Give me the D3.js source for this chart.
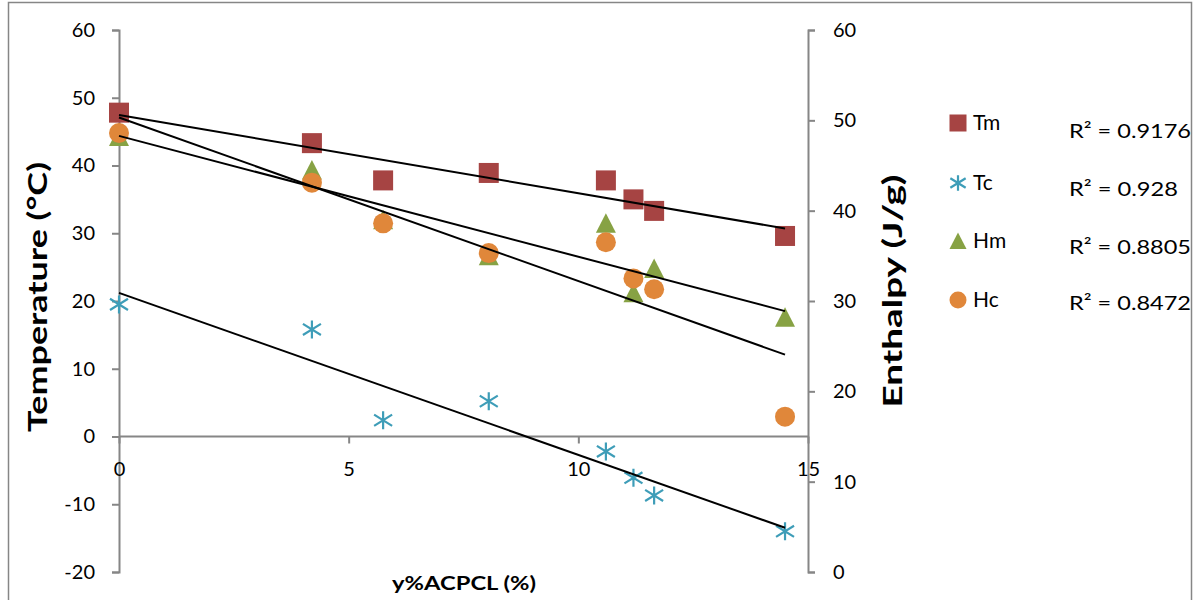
<!DOCTYPE html>
<html><head><meta charset="utf-8">
<script src="https://cdn.jsdelivr.net/npm/d3@7"></script>
<style>body{margin:0;background:#fff}svg{display:block}text{font-family:Lato,"Open Sans",sans-serif}</style>
</head><body><svg id="c" width="1194" height="600"></svg>
<script>
// data
const xValues = [0, 4.2, 5.75, 8.05, 10.6, 11.2, 11.65, 14.5];
const tmValues = [47.8, 43.3, 37.8, 38.9, 37.8, 35.0, 33.3, 29.6]; // °C, left axis
const tcValues = [19.5, 15.8, 2.4, 5.2, -2.2, -6.1, -8.7, -14.0]; // °C, left axis
const hmValues = [48.2, 44.5, 39.0, 35.0, 38.6, 30.9, 33.6, 28.2]; // J/g, right axis
const hcValues = [48.6, 43.1, 38.6, 35.3, 36.5, 32.5, 31.3, 17.2]; // J/g, right axis
const seriesNames = ["Tm", "Tc", "Hm", "Hc"];
const r2Labels = ["R² = 0.9176", "R² = 0.928", "R² = 0.8805", "R² = 0.8472"];
const xTicks = [0, 5, 10, 15];
const leftTicks = [-20, -10, 0, 10, 20, 30, 40, 50, 60];
const rightTicks = [0, 10, 20, 30, 40, 50, 60];

const svg = d3.select("#c");
const x = d3.scaleLinear([0, 15], [119, 808]);
const yL = d3.scaleLinear([-20, 60], [572, 30]);
const yR = d3.scaleLinear([0, 60], [572, 30]);
const axisColor = "#868686";
const fmt = d => String(d); // plain hyphen minus, like the reference

// border
svg.append("rect").attr("x", 8.5).attr("y", 2.5).attr("width", 1183).attr("height", 620)
  .attr("fill", "none").attr("stroke", axisColor).attr("stroke-width", 1.5);

function styleAxis(g, size) {
  g.selectAll("path,line").attr("stroke", axisColor).attr("stroke-width", 2);
  g.selectAll("text").attr("font-size", size).attr("fill", "#000").attr("font-family", "'Open Sans', Lato, sans-serif");
}
const gl = svg.append("g").attr("transform", `translate(${x(0)},0)`)
  .call(d3.axisLeft(yL).tickValues(leftTicks).tickSize(7).tickPadding(17).tickFormat(fmt));
styleAxis(gl, 20);
const gr = svg.append("g").attr("transform", `translate(${x(15)},0)`)
  .call(d3.axisRight(yR).tickValues(rightTicks).tickSize(7).tickPadding(18).tickFormat(fmt));
styleAxis(gr, 20);
const gx = svg.append("g").attr("transform", `translate(0,${yL(0)})`)
  .call(d3.axisBottom(x).tickValues(xTicks).tickSize(7).tickPadding(18).tickFormat(fmt));
styleAxis(gx, 20);
gx.select(".domain").attr("d", `M${x(0)},0H${x(15)}`);

// titles
svg.append("text").attr("transform", "translate(47,297) rotate(-90)").attr("text-anchor", "middle")
  .attr("font-size", 27).attr("font-weight", "bold").attr("textLength", 270).attr("lengthAdjust", "spacingAndGlyphs")
  .text("Temperature (°C)");
svg.append("text").attr("transform", "translate(902,291) rotate(-90)").attr("text-anchor", "middle")
  .attr("font-size", 27).attr("font-weight", "bold").attr("textLength", 233).attr("lengthAdjust", "spacingAndGlyphs")
  .text("Enthalpy (J/g)");
svg.append("text").attr("x", 464).attr("y", 590).attr("text-anchor", "middle")
  .attr("font-size", 18).attr("font-weight", "bold").attr("textLength", 144).attr("lengthAdjust", "spacingAndGlyphs")
  .text("y%ACPCL (%)");

const series = [
  {name: "Tm", vals: tmValues, y: yL, color: "#A64443", shape: "square"},
  {name: "Tc", vals: tcValues, y: yL, color: "#3E9DB8", shape: "star"},
  {name: "Hm", vals: hmValues, y: yR, color: "#87A244", shape: "triangle"},
  {name: "Hc", vals: hcValues, y: yR, color: "#E0873A", shape: "circle"}
];

function drawMarker(g, shape, cx, cy, s, color) {
  const h = s / 2;
  if (shape === "square") {
    g.append("rect").attr("x", cx - h).attr("y", cy - h).attr("width", s).attr("height", s).attr("fill", color);
  } else if (shape === "circle") {
    g.append("circle").attr("cx", cx).attr("cy", cy).attr("r", h).attr("fill", color);
  } else if (shape === "triangle") {
    g.append("path").attr("d", `M${cx},${cy - h}L${cx + h},${cy + h * 0.95}L${cx - h},${cy + h * 0.95}Z`).attr("fill", color);
  } else {
    const a = h * 0.9;
    g.append("path").attr("d", `M${cx - a},${cy - a * 0.62}L${cx + a},${cy + a * 0.62}M${cx - a},${cy + a * 0.62}L${cx + a},${cy - a * 0.62}M${cx},${cy - a}L${cx},${cy + a}`)
      .attr("stroke", color).attr("stroke-width", 2.2).attr("fill", "none");
  }
}

series.forEach(s => {
  const g = svg.append("g");
  s.vals.forEach((v, i) => drawMarker(g, s.shape, x(xValues[i]), s.y(v), 20, s.color));
});

// trendlines (least squares)
function fit(xs, ys) {
  const n = xs.length, mx = d3.mean(xs), my = d3.mean(ys);
  let sxy = 0, sxx = 0;
  for (let i = 0; i < n; i++) { sxy += (xs[i] - mx) * (ys[i] - my); sxx += (xs[i] - mx) ** 2; }
  const b = sxy / sxx; return {a: my - b * mx, b};
}
const x0 = d3.min(xValues), x1 = d3.max(xValues);
series.forEach(s => {
  const f = fit(xValues, s.vals);
  svg.append("line").attr("x1", x(x0)).attr("y1", s.y(f.a + f.b * x0)).attr("x2", x(x1)).attr("y2", s.y(f.a + f.b * x1))
    .attr("stroke", "#000").attr("stroke-width", 2);
});

// legend
const legY = [123, 183, 241, 300];
const r2Y = [131, 189, 247, 303];
const r2W = [122, 109, 122, 122];
series.forEach((s, i) => {
  const g = svg.append("g");
  drawMarker(g, s.shape, 958, legY[i], 17, s.color);
  g.append("text").attr("x", 973).attr("y", legY[i]).attr("dy", "0.35em").attr("font-size", 21)
    .attr("font-family", "'Open Sans', Lato, sans-serif").text(seriesNames[i]);
  svg.append("text").attr("x", 1069).attr("y", r2Y[i]).attr("dy", "0.35em").attr("font-size", 20)
    .attr("font-family", "'Open Sans', Lato, sans-serif")
    .attr("textLength", r2W[i]).attr("lengthAdjust", "spacingAndGlyphs").text(r2Labels[i]);
});
</script></body></html>
